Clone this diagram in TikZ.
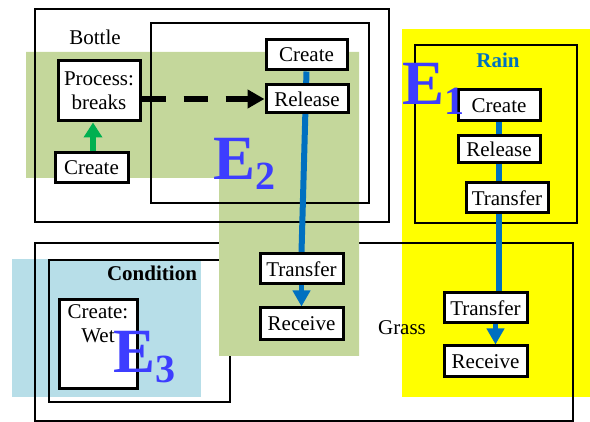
\documentclass[tikz,border=0pt]{standalone}
\usepackage{fontspec}
\setmainfont{Liberation Serif}
\usetikzlibrary{arrows.meta,calc}
\pgfdeclarelayer{lA}\pgfdeclarelayer{lB}\pgfdeclarelayer{lC}
\pgfsetlayers{lA,lB,lC,main}
\definecolor{gfill}{RGB}{196,215,155}
\definecolor{yfill}{RGB}{255,255,0}
\definecolor{bfill}{RGB}{183,222,232}
\definecolor{arrblue}{RGB}{0,112,192}
\definecolor{arrgreen}{RGB}{0,176,80}
\definecolor{ecol}{RGB}{61,61,255}
\newcommand\fsz{\fontsize{21}{24}\selectfont}
\newcommand\bigE{\bfseries\fontsize{63}{63}\selectfont}
\newcommand\subE[1]{\raisebox{-10pt}{\fontsize{40}{40}\selectfont #1}}
\tikzset{
  frame/.style={draw, line width=2pt, inner sep=0pt},
  sbox/.style={draw, line width=3pt, fill=white, inner sep=0pt, font=\fsz},
  lbl/.style={inner sep=0pt, font=\fsz},
  elbl/.style={inner sep=0pt, anchor=base west, text=ecol, font=\bigE},
  bline/.style={draw=arrblue, line width=6pt},
  barrow/.style={draw=arrblue, line width=5pt, -{Triangle[length=16pt,width=17pt]}}
}
\begin{document}
\begin{tikzpicture}[x=1pt,y=-1pt]
\useasboundingbox (0,0) rectangle (590,422);
% small boxes
\node[sbox, minimum width=82, minimum height=60, align=center] (proc) at (99,91) {Process:\\breaks};
\node[sbox, minimum width=73, minimum height=30] (cr1) at (91.5,168) {Create};
\node[sbox, minimum width=81, minimum height=30] (cr2) at (306.5,55) {Create};
\node[sbox, minimum width=82, minimum height=28] (rel2) at (307,99) {Release};
\node[sbox, minimum width=83, minimum height=30] (tr2) at (301.5,269) {Transfer};
\node[sbox, minimum width=83, minimum height=32] (rc2) at (301.5,324) {Receive};
\node[sbox, minimum width=82, minimum height=31] (cr3) at (499,105.5) {Create};
\node[sbox, minimum width=82, minimum height=27] (rel3) at (499,149.5) {Release};
\node[sbox, minimum width=82, minimum height=30] (tr3) at (507,198) {Transfer};
\node[sbox, minimum width=83, minimum height=30] (tr4) at (485.5,308) {Transfer};
\node[sbox, minimum width=83, minimum height=31] (rc4) at (485.5,361.5) {Receive};
\node[sbox, minimum width=78, minimum height=89] (wet) at (98,344.5) {};
\node[lbl, anchor=north, align=center] (wett) at ($(wet.north)+(0,6)$) {Create:\\Wet};
% labels
\node[lbl] (tbottle) at (95,37) {Bottle};
\node[lbl] (tgrass) at (402,328) {Grass};
\node[lbl, font=\fsz\bfseries] (tcond) at (152,273) {Condition};
\node[lbl, font=\fsz\bfseries, text=arrblue] (train) at (498,60) {Rain};
% E labels
\node[elbl] (e1) at (402,105) {E\subE{1}};
\node[elbl] (e2) at (213,180) {E\subE{2}};
\node[elbl] (e3) at (113,373) {E\subE{3}};
% background fills and outer frames
\begin{pgfonlayer}{lA}
\fill[yfill] (402,29) rectangle (590,397);
\fill[bfill] (12,259) rectangle (201,397);
\node[frame, minimum width=538, minimum height=178] (grass) at (304,332) {};
\node[frame, minimum width=181, minimum height=142] (cond) at (139.5,331) {};
\end{pgfonlayer}
\begin{pgfonlayer}{lB}
\fill[gfill] (26,52) -- (359,52) -- (359,356) -- (219,356) -- (219,178) -- (26,178) -- cycle;
\end{pgfonlayer}
\begin{pgfonlayer}{lC}
\node[frame, minimum width=354, minimum height=213] (bottle) at (212,115.5) {};
\node[frame, minimum width=218, minimum height=180] (inner) at (260,113) {};
\node[frame, minimum width=162, minimum height=178] (rainf) at (496,134) {};
% connectors
\draw[bline] (cr2.south) -- (tr2.north);
\draw[bline] (cr3.south) -- (cr3.south |- tr4.north);
\draw[barrow] (tr2.south) -- (rc2.north);
\draw[barrow] ($(tr4.south)+(10,0)$) -- ($(rc4.north)+(10,0)$);
\draw[draw=arrgreen, line width=6pt, -{Triangle[length=15pt,width=18pt]}] ($(cr1.north)+(1.5,0)$) -- ($(cr1.north |- proc.south)+(1.5,0)$);
\draw[line width=6pt, dash pattern=on 24pt off 18pt, -{Triangle[length=17pt,width=18pt]}] (proc.east |- rel2.west) -- (rel2.west);
\end{pgfonlayer}
\end{tikzpicture}
\end{document}
